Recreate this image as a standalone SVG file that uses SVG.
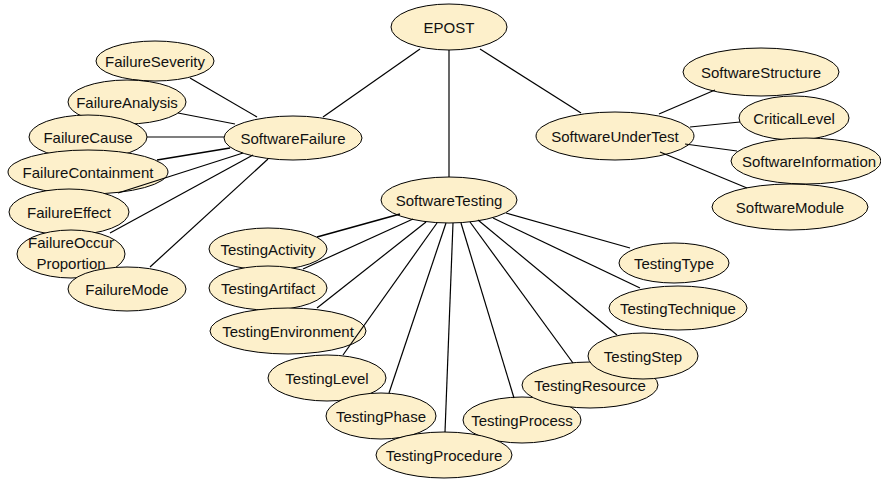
<svg xmlns="http://www.w3.org/2000/svg" width="881" height="479" viewBox="0 0 881 479">
  <style>
    .node ellipse { fill: #fdf0cb; stroke: #000; stroke-width: 1; }
    .node text { font-family: "Liberation Sans", Arial, sans-serif; font-size: 15px; fill: #111; text-anchor: middle; }
    #connectors line { stroke: #000; stroke-width: 1.2; fill: none; }
    #connectors line.heavy { stroke-width: 1.6; }
  </style>
  <rect width="881" height="479" fill="#fff"/>

  <!-- root -->
  <g id="n-epost" class="node"><ellipse cx="449" cy="27" rx="58" ry="23"/><text x="449" y="33">EPOST</text></g>

  <!-- software failure branch -->
  <g id="n-softwarefailure" class="node"><ellipse cx="293" cy="138" rx="69" ry="22"/><text x="293" y="144">SoftwareFailure</text></g>
  <g id="n-failureseverity" class="node"><ellipse cx="155" cy="61" rx="59" ry="20"/><text x="155" y="67">FailureSeverity</text></g>
  <g id="n-failureanalysis" class="node"><ellipse cx="127" cy="102" rx="59" ry="22"/><text x="127" y="108">FailureAnalysis</text></g>
  <g id="n-failurecause" class="node"><ellipse cx="88" cy="137" rx="59" ry="22"/><text x="88" y="143">FailureCause</text></g>
  <g id="n-failurecontainment" class="node"><ellipse cx="88" cy="172" rx="80" ry="22"/><text x="88" y="178">FailureContainment</text></g>
  <g id="n-failureeffect" class="node"><ellipse cx="69" cy="212" rx="60" ry="23"/><text x="69" y="218">FailureEffect</text></g>
  <g id="n-failureoccurproportion" class="node"><ellipse cx="71" cy="254" rx="54" ry="24"/><text x="71" y="248">FailureOccur</text><text x="71" y="269">Proportion</text></g>
  <g id="n-failuremode" class="node"><ellipse cx="127" cy="289" rx="59" ry="22"/><text x="127" y="295">FailureMode</text></g>

  <!-- software under test branch -->
  <g id="n-softwareundertest" class="node"><ellipse cx="615" cy="136" rx="79" ry="24"/><text x="615" y="142">SoftwareUnderTest</text></g>
  <g id="n-softwarestructure" class="node"><ellipse cx="761" cy="72" rx="78" ry="24"/><text x="761" y="78">SoftwareStructure</text></g>
  <g id="n-criticallevel" class="node"><ellipse cx="794" cy="118" rx="55" ry="22"/><text x="794" y="124">CriticalLevel</text></g>
  <g id="n-softwareinformation" class="node"><ellipse cx="806" cy="161" rx="75" ry="23"/><text x="809" y="167">SoftwareInformation</text></g>
  <g id="n-softwaremodule" class="node"><ellipse cx="790" cy="207" rx="78" ry="23"/><text x="790" y="213">SoftwareModule</text></g>

  <!-- software testing branch -->
  <g id="n-softwaretesting" class="node"><ellipse cx="449" cy="200" rx="68" ry="23"/><text x="449" y="206">SoftwareTesting</text></g>
  <g id="n-testingactivity" class="node"><ellipse cx="268" cy="249" rx="59" ry="21"/><text x="268" y="255">TestingActivity</text></g>
  <g id="n-testingartifact" class="node"><ellipse cx="268" cy="288" rx="59" ry="22"/><text x="268" y="294">TestingArtifact</text></g>
  <g id="n-testingenvironment" class="node"><ellipse cx="288" cy="331" rx="78" ry="23"/><text x="288" y="337">TestingEnvironment</text></g>
  <g id="n-testinglevel" class="node"><ellipse cx="327" cy="378" rx="59" ry="23"/><text x="327" y="384">TestingLevel</text></g>
  <g id="n-testingphase" class="node"><ellipse cx="381" cy="416" rx="55" ry="23"/><text x="381" y="422">TestingPhase</text></g>
  <g id="n-testingprocess" class="node"><ellipse cx="522" cy="420" rx="59" ry="23"/><text x="522" y="426">TestingProcess</text></g>
  <g id="n-testingprocedure" class="node"><ellipse cx="444" cy="455" rx="68" ry="23"/><text x="444" y="461">TestingProcedure</text></g>
  <g id="n-testingresource" class="node"><ellipse cx="590" cy="385" rx="68" ry="23"/><text x="590" y="391">TestingResource</text></g>
  <g id="n-testingstep" class="node"><ellipse cx="643" cy="356" rx="55" ry="23"/><text x="643" y="362">TestingStep</text></g>
  <g id="n-testingtype" class="node"><ellipse cx="674" cy="263" rx="55" ry="20"/><text x="674" y="269">TestingType</text></g>
  <g id="n-testingtechnique" class="node"><ellipse cx="678" cy="308" rx="69" ry="22"/><text x="678" y="314">TestingTechnique</text></g>

  <g id="connectors">
    <!-- root links -->
    <line x1="420" y1="49" x2="323" y2="117"/>
    <line x1="449" y1="50" x2="449" y2="177"/>
    <line x1="480" y1="49" x2="581" y2="113"/>
    <!-- SoftwareFailure links -->
    <line x1="190" y1="78" x2="257" y2="117"/>
    <line x1="178" y1="113" x2="235" y2="124"/>
    <line x1="147" y1="137" x2="224" y2="137"/>
    <line class="heavy" x1="157" y1="160" x2="230" y2="148"/>
    <line x1="118" y1="193" x2="243" y2="153"/>
    <line x1="110" y1="233" x2="253" y2="155"/>
    <line x1="150" y1="267" x2="268" y2="159"/>
    <!-- SoftwareUnderTest links -->
    <line x1="659" y1="114" x2="715" y2="90"/>
    <line x1="690" y1="127" x2="740" y2="122"/>
    <line x1="685" y1="144" x2="737" y2="151"/>
    <line x1="660" y1="152" x2="747" y2="188"/>
    <!-- SoftwareTesting links -->
    <line class="heavy" x1="400" y1="214" x2="317" y2="237"/>
    <line x1="413" y1="219" x2="303" y2="269"/>
    <line x1="426" y1="222" x2="317" y2="308"/>
    <line x1="437" y1="223" x2="343" y2="355"/>
    <line x1="446" y1="223" x2="389" y2="393"/>
    <line x1="453" y1="223" x2="445" y2="432"/>
    <line x1="461" y1="223" x2="514" y2="398"/>
    <line x1="470" y1="222" x2="573" y2="363"/>
    <line x1="478" y1="220" x2="617" y2="335"/>
    <line x1="493" y1="218" x2="640" y2="288"/>
    <line x1="506" y1="213" x2="630" y2="248"/>
  </g>
</svg>
